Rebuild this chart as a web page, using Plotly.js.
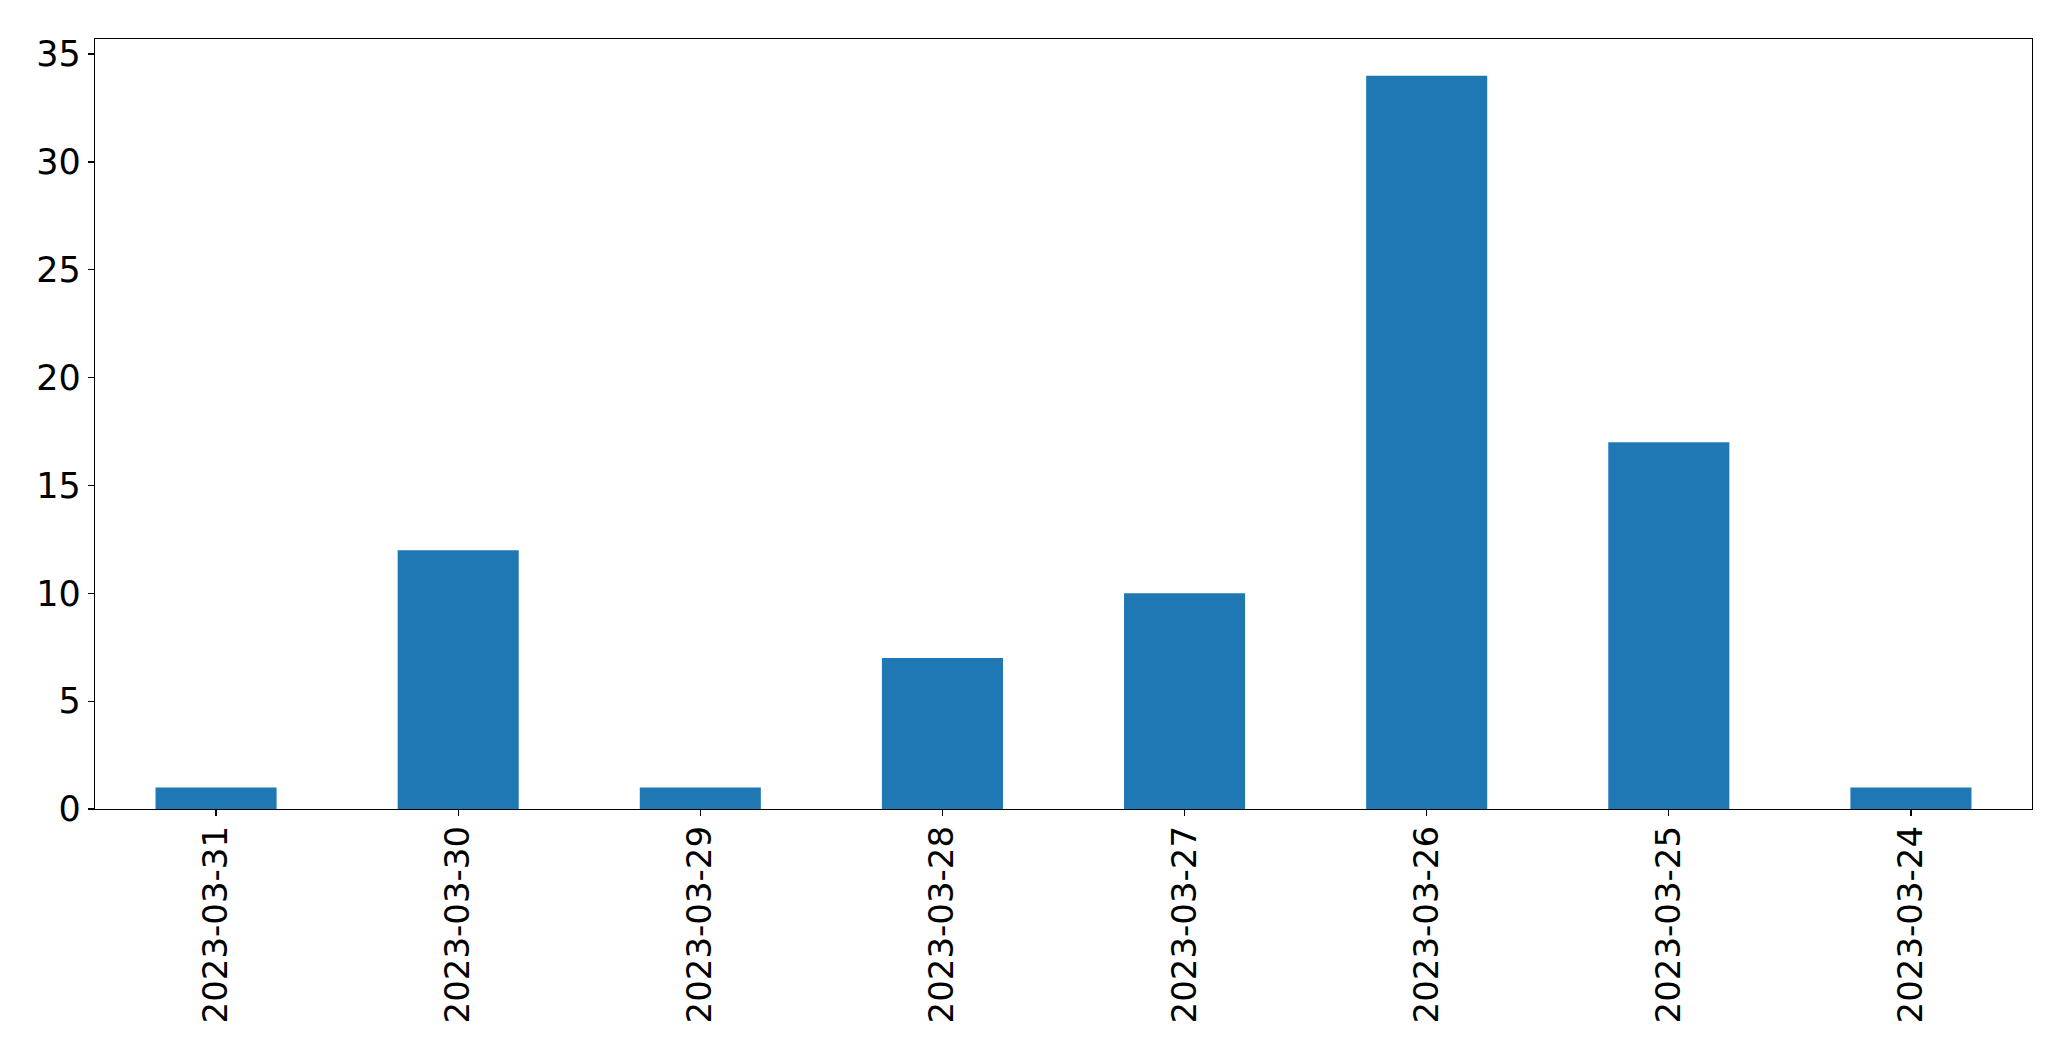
<!DOCTYPE html>
<html>
<head>
<meta charset="utf-8">
<script src="https://cdn.plot.ly/plotly-3.0.1.min.js"></script>
<style>html,body{margin:0;padding:0;background:#fff;}#chart{width:2071px;height:1061px;}</style>
</head>
<body>
<div id="chart"></div>
<script>
const dates = ["2023-03-31","2023-03-30","2023-03-29","2023-03-28","2023-03-27","2023-03-26","2023-03-25","2023-03-24"];
const counts = [1, 12, 1, 7, 10, 34, 17, 1];
const yTicks = [0, 5, 10, 15, 20, 25, 30, 35];

const trace = {
  type: 'bar',
  x: dates,
  y: counts,
  width: 0.5,
  marker: {color: '#1f77b4', line: {width: 0}},
  hoverinfo: 'x+y'
};

const layout = {
  width: 2071,
  height: 1061,
  margin: {l: 95, r: 39, t: 39, b: 252, pad: 0},
  paper_bgcolor: '#ffffff',
  plot_bgcolor: '#ffffff',
  font: {family: 'DejaVu Sans', size: 35, color: '#000000'},
  showlegend: false,
  bargap: 0.5,
  xaxis: {
    type: 'category',
    range: [-0.5, 7.5],
    tickangle: -90,
    ticks: 'outside',
    ticklen: 6,
    tickwidth: 1.3,
    tickcolor: '#000',
    ticklabelstandoff: -4,
    showline: true,
    linecolor: '#000',
    linewidth: 1.3,
    mirror: true,
    showgrid: false,
    zeroline: false,
    tickfont: {family: 'DejaVu Sans', size: 34, color: '#000'}
  },
  yaxis: {
    range: [0, 35.7],
    tickvals: yTicks,
    ticktext: yTicks.map(String),
    ticks: 'outside',
    ticklen: 6,
    tickwidth: 1.3,
    tickcolor: '#000',
    showline: true,
    linecolor: '#000',
    linewidth: 1.3,
    mirror: true,
    showgrid: false,
    zeroline: false,
    tickfont: {family: 'DejaVu Sans', size: 35, color: '#000'}
  }
};

Plotly.newPlot('chart', [trace], layout, {displayModeBar: false, staticPlot: true});
</script>
</body>
</html>
